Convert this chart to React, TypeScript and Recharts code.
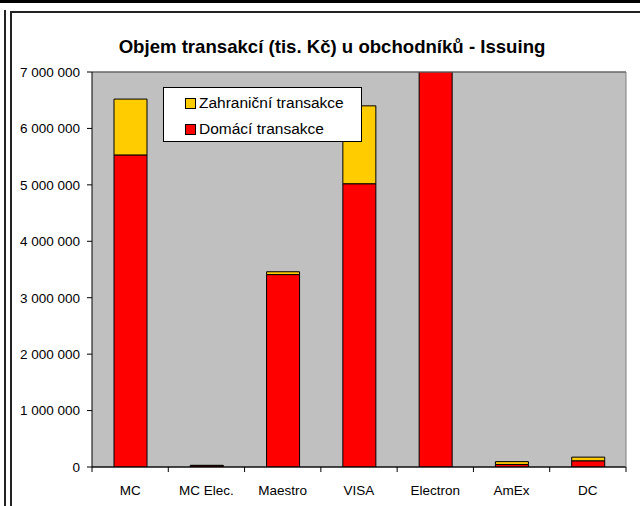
import React from 'react';
import { BarChart, Bar, XAxis, YAxis, CartesianGrid, Legend, ReferenceLine } from 'recharts';

const categories = ['MC', 'MC Elec.', 'Maestro', 'VISA', 'Electron', 'AmEx', 'DC'];
const domestic = [5530000, 20000, 3410000, 5020000, 7050000, 45000, 110000];
const foreign = [990000, 10000, 50000, 1380000, 0, 50000, 65000];
const yTicks = [0, 1000000, 2000000, 3000000, 4000000, 5000000, 6000000, 7000000];

const data = categories.map((name, i) => ({ name, domestic: domestic[i], foreign: foreign[i] }));

const FONT = '"Liberation Sans", Arial, sans-serif';
const W = 640;
const H = 506;
const M = { top: 72, right: 13, bottom: 9, left: 12 };
const Y_AXIS_W = 80;
const band = (W - M.left - M.right - Y_AXIS_W - 1) / categories.length;

const fmt = (v: number) => String(v).replace(/\B(?=(\d{3})+(?!\d))/g, ' ');

const XTick = ({ x, y, payload, index }: any) => {
  const last = index === categories.length - 1;
  return (
    <g>
      <line x1={x - band / 2} x2={x - band / 2} y1={y} y2={y + 5} stroke="#000" />
      {last && <line x1={x + band / 2} x2={x + band / 2} y1={y} y2={y + 5} stroke="#000" />}
      <text x={x} y={y + 28} textAnchor="middle" fontSize={13.5} fontFamily={FONT} fill="#000">
        {payload.value}
      </text>
    </g>
  );
};

const LegendBox = ({ payload }: any) => {
  const items = [...(payload || [])].reverse();
  return (
    <div
      style={{
        width: 199,
        height: 55,
        boxSizing: 'border-box',
        background: '#fff',
        border: '1px solid #000',
        padding: '4px 0 0 21px',
        fontFamily: FONT,
        fontSize: 15.5,
      }}
    >
      {items.map((entry: any) => (
        <div key={entry.value} style={{ display: 'flex', alignItems: 'center', height: 22, marginBottom: 4 }}>
          <span
            style={{
              width: 9,
              height: 9,
              background: entry.color,
              border: '1px solid #000',
              marginRight: 3,
              display: 'inline-block',
            }}
          />
          <span>{entry.value}</span>
        </div>
      ))}
    </div>
  );
};

export default function App() {
  return (
    <div style={{ position: 'absolute', left: 0, top: 0, width: W, height: H, overflow: 'hidden', background: '#fff' }}>
      <div style={{ position: 'absolute', left: 0, top: 0, width: W, height: 3, background: '#000' }} />
      <div style={{ position: 'absolute', left: 4, top: 10, width: 2, height: H, background: '#222' }} />
      <div
        style={{
          position: 'absolute',
          left: 10,
          top: 11,
          width: W,
          height: H,
          borderLeft: '2px solid #222',
          borderTop: '2px solid #222',
        }}
      />
      <div
        style={{
          position: 'absolute',
          left: 100,
          top: 36,
          width: 464,
          textAlign: 'center',
          fontFamily: FONT,
          fontWeight: 'bold',
          fontSize: 18.6,
          lineHeight: '22px',
          color: '#000',
        }}
      >
        Objem transakcí (tis. Kč) u obchodníků - Issuing
      </div>
      <div style={{ position: 'absolute', left: 0, top: 0 }}>
        <BarChart width={W} height={H} data={data} margin={M} barSize={33}>
          <CartesianGrid vertical={false} fill="#C0C0C0" stroke="#333" fillOpacity={1} />
          <XAxis
            dataKey="name"
            axisLine={{ stroke: '#000' }}
            tickLine={false}
            tickSize={0}
            tickMargin={0}
            height={30}
            interval={0}
            tick={<XTick />}
          />
          <YAxis
            yAxisId="left"
            width={Y_AXIS_W}
            domain={[0, 7000000]}
            ticks={yTicks}
            allowDataOverflow
            tickFormatter={fmt}
            axisLine={{ stroke: '#000' }}
            tickLine={{ stroke: '#000' }}
            tickSize={5}
            tickMargin={7}
            tick={{ fontSize: 13.5, fontFamily: FONT, fill: '#000' }}
          />
          <YAxis yAxisId="right" orientation="right" width={1} tick={false} tickLine={false} axisLine={{ stroke: '#808080' }} />
          <ReferenceLine yAxisId="left" y={7000000} stroke="#808080" />
          <Bar
            yAxisId="left"
            dataKey="domestic"
            name="Domácí transakce"
            stackId="a"
            fill="#FF0000"
            stroke="#000"
            strokeWidth={1}
            isAnimationActive={false}
          />
          <Bar
            yAxisId="left"
            dataKey="foreign"
            name="Zahraniční transakce"
            stackId="a"
            fill="#FFCC00"
            stroke="#000"
            strokeWidth={1}
            isAnimationActive={false}
          />
          <Legend
            layout="vertical"
            align="center"
            verticalAlign="middle"
            wrapperStyle={{ left: 163, top: 87, width: 199, height: 55 }}
            content={<LegendBox />}
          />
        </BarChart>
      </div>
    </div>
  );
}
